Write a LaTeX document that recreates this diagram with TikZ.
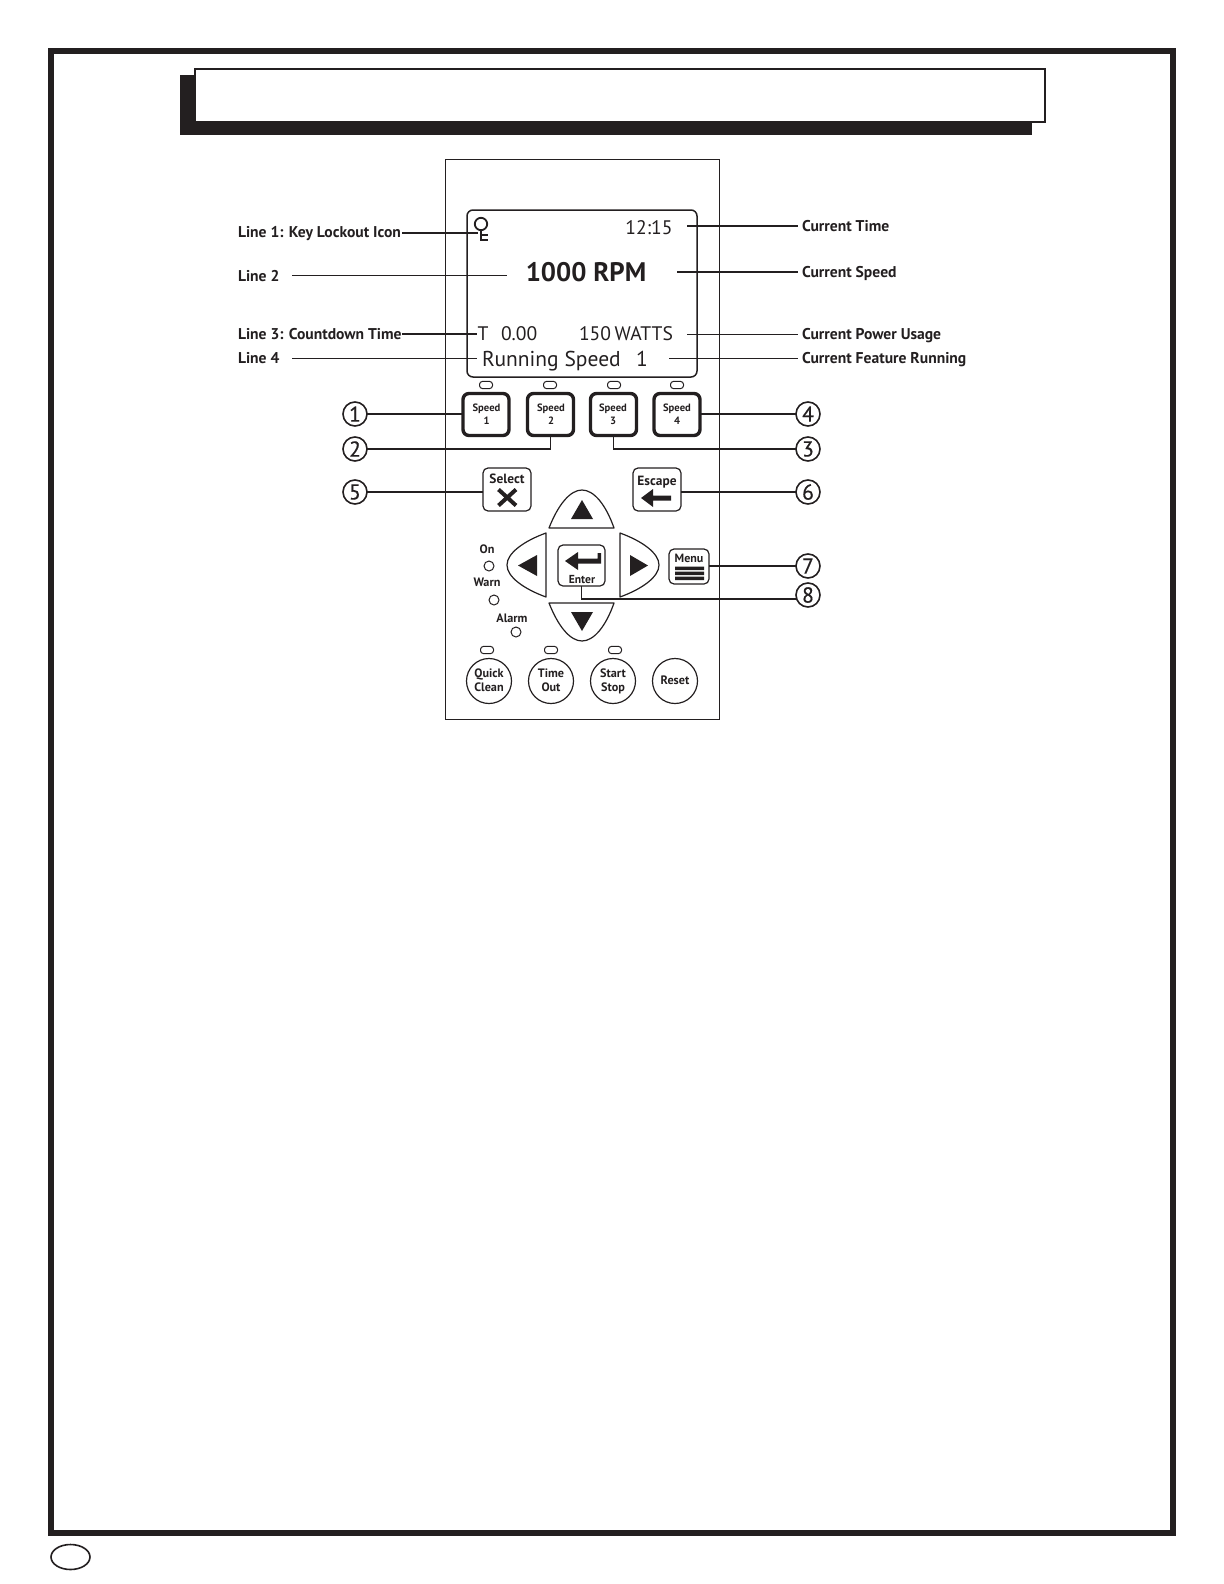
\documentclass[tikz,border=0pt]{standalone}
\usepackage{fontspec}
\setmainfont{PT Sans}
\newfontfamily\numfont[FakeBold=0.5]{PT Sans}
\definecolor{ink}{HTML}{231F20}
\newcommand{\fsz}[1]{\fontsize{#1}{#1}\selectfont}
\tikzset{x=0.5pt,y=-0.5pt,
 every node/.style={inner sep=0,outer sep=0,text=ink},
 leader/.style={draw=ink,line width=0.55pt},
 calllabel/.style={font=\fsz{7.8}\bfseries,anchor=base west},
 callnum/.style={circle,draw=ink,line width=0.8pt,minimum size=12pt,font=\fsz{10.8}\numfont},
 led/.style={draw=ink,line width=0.5pt,rounded corners=1.5pt,minimum width=6.5pt,minimum height=3.6pt},
 dot/.style={circle,draw=ink,line width=0.5pt,minimum size=5pt},
 speedkey/.style={draw=ink,line width=1.7pt,rounded corners=3pt,minimum width=23pt,minimum height=21pt},
 softkey/.style={draw=ink,line width=0.6pt,rounded corners=2.5pt},
 roundkey/.style={circle,draw=ink,line width=0.6pt,minimum size=22.5pt},
 keytext/.style={font=\fsz{5.3}\bfseries,anchor=base},
 tiny/.style={font=\fsz{6.1}\bfseries,anchor=base},
 lcd/.style={font=\fsz{9.8}},
 tri/.style={fill=ink,draw=none},
 arrowkey/.style={draw=ink,line width=0.6pt,line join=round},
}
\begin{document}
\begin{tikzpicture}
\useasboundingbox (0,0) rectangle (1224,1584);
% page frame
\draw[draw=ink,line width=3pt] (51,51) rectangle (1173,1532.5);
\draw[draw=ink,line width=0.8pt] (70.5,1557) ellipse [x radius=19.5,y radius=12.5];
% header
\fill[ink,draw=none] (180,75) rectangle (1032,135);
\draw[draw=ink,fill=white,line width=1pt] (195,69) rectangle (1045,122);
% panel
\draw[draw=ink,line width=0.5pt] (445,159) rectangle (719.5,719);
% screen
\draw[draw=ink,line width=0.75pt,rounded corners=3pt] (467,210) rectangle (697,377);
% key icon
\node[circle,draw=ink,line width=0.9pt,minimum size=6.2pt] (keyhead) at (481,224) {};
\draw[draw=ink,line width=0.9pt] (keyhead.south) -- (481,240) -- (488,240) (481,235) -- (488,235);
\coordinate (keyicon) at (478,233);
% screen text
\node[lcd] (time) at (649,227.5) {12:15};
\node[font=\fsz{13.4}\bfseries] (rpm) at (586,272.5) {1000 RPM};
\node[lcd,anchor=center] (tee) at (483,334) {T};
\node[lcd,anchor=west] (countdown) at (501,334) {0.00};
\node[lcd,anchor=east] (watts) at (673,334) {\spaceskip=0.18em 150 WATTS};
\node[font=\fsz{10.75},anchor=base west] (running) at (482,366) {Running Speed};
\node[font=\fsz{10.75},anchor=base] (runnum) at (642,366) {1};
% left labels
\node[calllabel] (l1) at (238,237) {Line 1: Key Lockout Icon};
\node[calllabel] (l2) at (238,281) {Line 2};
\node[calllabel] (l3) at (238,339) {Line 3: Countdown Time};
\node[calllabel] (l4) at (238,363.5) {Line 4};
% right labels
\node[calllabel] (r1) at (802,231) {Current Time};
\node[calllabel] (r2) at (802,277) {Current Speed};
\node[calllabel] (r3) at (802,339) {Current Power Usage};
\node[calllabel] (r4) at (802,363.5) {Current Feature Running};
% label leaders
\coordinate (l2a) at (292,275.5); \coordinate (l2b) at (507,275.5);
\coordinate (l4a) at (292,358.5); \coordinate (l4b) at (477,358.5);
\coordinate (r1a) at (687,226); \coordinate (r1b) at (798,226);
\coordinate (r2a) at (677,272); \coordinate (r2b) at (798,272);
\coordinate (r3a) at (687,334.5); \coordinate (r3b) at (798,334.5);
\coordinate (r4a) at (669,358.5); \coordinate (r4b) at (798,358.5);
\coordinate (l1a) at (402,233); \coordinate (l3a) at (402,334); \coordinate (l3b) at (477,334);
\draw[leader] (l1a) -- (keyicon);
\draw[leader] (l2a) -- (l2b);
\draw[leader] (l3a) -- (l3b);
\draw[leader] (l4a) -- (l4b);
\draw[leader] (r1a) -- (r1b);
\draw[leader] (r2a) -- (r2b);
\draw[leader] (r3a) -- (r3b);
\draw[leader] (r4a) -- (r4b);
% speed LEDs
\node[led] (lt1) at (486,385) {};
\node[led] (lt2) at (550,385) {};
\node[led] (lt3) at (614,385) {};
\node[led] (lt4) at (677,385) {};
% speed keys
\node[speedkey] (s1) at (486,414.5) {};
\node[speedkey] (s2) at (550.5,414.5) {};
\node[speedkey] (s3) at (613.5,414.5) {};
\node[speedkey] (s4) at (677,414.5) {};
\foreach \k/\x/\n in {s1/486.5/1,s2/551/2,s3/613/3,s4/677/4}{
  \node[keytext] (\k a) at (\x,411) {Speed};
  \node[keytext] (\k b) at (\x,424) {\n};
}
% callouts
\node[callnum] (c1) at (355,414) {1};
\node[callnum] (c2) at (355,449) {2};
\node[callnum] (c3) at (808,449) {3};
\node[callnum] (c4) at (808,414) {4};
\node[callnum] (c5) at (355,492) {5};
\node[callnum] (c6) at (808,492) {6};
\node[callnum] (c7) at (808,566) {7};
\node[callnum] (c8) at (808,595) {8};
% select / escape
\node[softkey,minimum width=24pt,minimum height=21.5pt] (sel) at (507,489.5) {};
\node[font=\fsz{6.7}\bfseries,anchor=base] (seltxt) at (507,483) {Select};
\draw[draw=ink,line width=2pt] (498.5,489.5) -- (516,505.5) (516,489.5) -- (498.5,505.5);
\node[softkey,minimum width=24pt,minimum height=21.5pt] (esc) at (657,489.5) {};
\node[font=\fsz{6.7}\bfseries,anchor=base] (esctxt) at (657,485) {Escape};
\fill[ink,draw=none] (641,498) -- (653,489) -- (653,495.5) -- (671,495.5) -- (671,500.5) -- (653,500.5) -- (653,507) -- cycle;
% arrow keys
\draw[arrowkey] (549,528) .. controls (558,505) and (570,490) .. (582,490) .. controls (594,490) and (606,505) .. (614,528) -- cycle;
\fill[tri] (571,519) -- (593,519) -- (582,500) -- cycle;
\draw[arrowkey] (549,603) .. controls (558,626) and (570,641) .. (582,641) .. controls (594,641) and (606,626) .. (614,603) -- cycle;
\fill[tri] (571,612) -- (593,612) -- (582,631) -- cycle;
\draw[arrowkey] (546,533) .. controls (524,541) and (507,553) .. (507,565) .. controls (507,577) and (524,589) .. (546,597) -- cycle;
\fill[tri] (537,555) -- (537,576) -- (518,565.5) -- cycle;
\draw[arrowkey] (620,533) .. controls (642,541) and (659,553) .. (659,565) .. controls (659,577) and (642,589) .. (620,597) -- cycle;
\fill[tri] (630,555) -- (630,576) -- (648,565.5) -- cycle;
% enter
\node[softkey,minimum width=23.5pt,minimum height=20.5pt] (ent) at (581.5,565.5) {};
\node[font=\fsz{5.8}\bfseries,anchor=base] (enttxt) at (582,583) {Enter};
\fill[ink,draw=none] (565,561) -- (578,552) -- (578,558.5) -- (597.5,558.5) -- (597.5,553) -- (601,553) -- (601,563.5) -- (578,563.5) -- (578,570) -- cycle;
% menu
\node[softkey,minimum width=20pt,minimum height=17.5pt] (menu) at (689,566.5) {};
\node[font=\fsz{6}\bfseries,anchor=base] (menutxt) at (689,562) {Menu};
\fill[ink,draw=none] (675,566.5) rectangle (704,570) (675,571.5) rectangle (704,575) (675,576.5) rectangle (704,580);
% callout leaders
\draw[leader] (c1) -- (s1.west |- c1);
\draw[leader] (c2) -- (s2.south |- c2) -- (s2.south);
\draw[leader] (c3) -- (s3.south |- c3) -- (s3.south);
\draw[leader] (c4) -- (s4.east |- c4);
\draw[leader] (c5) -- (sel.west |- c5);
\draw[leader] (c6) -- (esc.east |- c6);
\draw[leader] (c7) -- (menu.east |- c7);
\coordinate (c8in) at (797,599);
\draw[leader] (ent.south) -- (ent.south |- c8in) -- (c8in);
% status LEDs
\node[tiny] (on) at (487,553) {On};
\node[dot] (ond) at (489,566) {};
\node[tiny] (warn) at (487,586) {Warn};
\node[dot] (warnd) at (494,600) {};
\node[tiny] (alarm) at (512,622) {Alarm};
\node[dot] (alarmd) at (516,632) {};
% bottom row
\node[led] (lb1) at (487,650) {};
\node[led] (lb2) at (551,650) {};
\node[led] (lb3) at (615,650) {};
\node[roundkey] (q) at (489,681) {};
\node[roundkey] (t) at (551,681) {};
\node[roundkey] (st) at (613,681) {};
\node[roundkey] (rs) at (675,681) {};
\node[tiny] (qa) at (489,677) {Quick};
\node[tiny] (qb) at (489,691) {Clean};
\node[tiny] (ta) at (551,677) {Time};
\node[tiny] (tb) at (551,691) {Out};
\node[tiny] (sa) at (613,677) {Start};
\node[tiny] (sb) at (613,691) {Stop};
\node[tiny] (ra) at (675,684) {Reset};
\end{tikzpicture}
\end{document}
